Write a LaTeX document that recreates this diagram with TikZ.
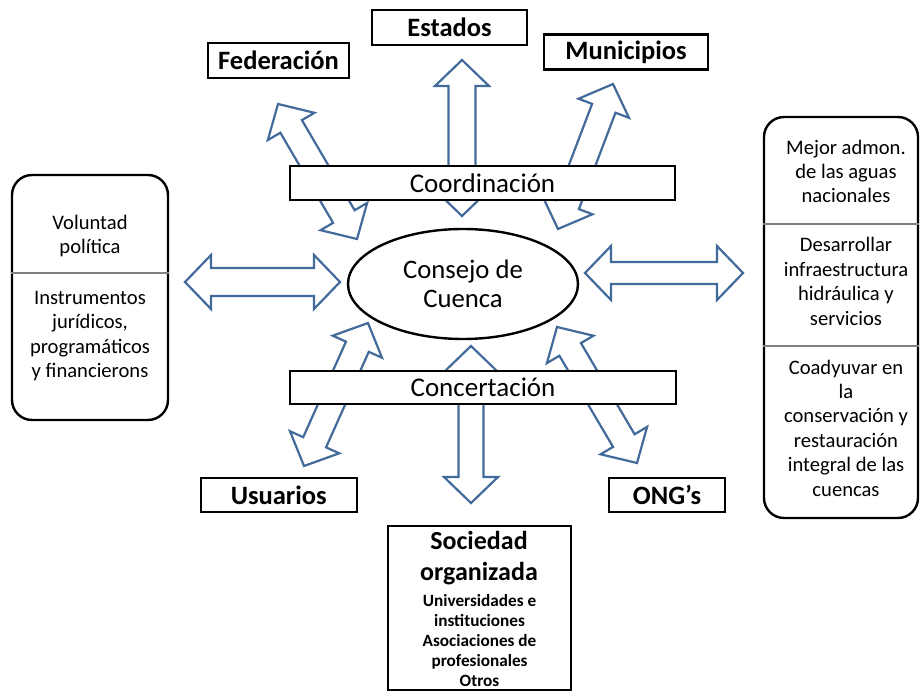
\documentclass[tikz,border=0pt]{standalone}
\usepackage{fontspec}
\setmainfont{Carlito}
\usetikzlibrary{calc,shapes.geometric}
\definecolor{arrowblue}{RGB}{66,106,155}
\definecolor{rulegray}{RGB}{128,128,128}

% Hollow block arrow with a head at both ends.
% #1 = half width of the shaft, #2 and #3 = tips
\newcommand{\twoway}[3][12.5pt]{%
  \draw[flowarrow] let \p1=($(#3)-(#2)$), \n1={atan2(\y1,\x1)} in
    (#2) -- ($(#2)+(\n1:26pt)+(\n1+90:27pt)$)
         -- ($(#2)+(\n1:26pt)+(\n1+90:#1)$)
         -- ($(#3)+(\n1+180:26pt)+(\n1+90:#1)$)
         -- ($(#3)+(\n1+180:26pt)+(\n1+90:27pt)$)
         -- (#3)
         -- ($(#3)+(\n1+180:26pt)+(\n1-90:27pt)$)
         -- ($(#3)+(\n1+180:26pt)+(\n1-90:#1)$)
         -- ($(#2)+(\n1:26pt)+(\n1-90:#1)$)
         -- ($(#2)+(\n1:26pt)+(\n1-90:27pt)$)
         -- cycle;}

\begin{document}
\begin{tikzpicture}[x=1pt,y=-1pt,
  box/.style={draw=black, line width=2.4pt, fill=white, inner sep=0pt},
  tag/.style={box, font=\fontsize{26.5}{30}\selectfont\bfseries},
  band/.style={box, font=\fontsize{27}{31}\selectfont},
  panel/.style={draw=black, line width=2.4pt, rounded corners=20pt, fill=white, inner sep=0pt},
  paneltext/.style={align=center, font=\fontsize{20.6}{24.4}\selectfont, inner sep=0pt},
  divider/.style={draw=rulegray, line width=1.1pt},
  flowarrow/.style={draw=arrowblue, line width=2.2pt, fill=white, line join=miter}]

\useasboundingbox (0,0) rectangle (920,692);

% arrow tips
\coordinate (fedA) at (278,104);  \coordinate (fedB) at (357,239);
\coordinate (estA) at (462,60);   \coordinate (estB) at (462,216);
\coordinate (munA) at (613,84);   \coordinate (munB) at (558,229);
\coordinate (lefA) at (185,282);  \coordinate (lefB) at (340,282);
\coordinate (rigA) at (585,273);  \coordinate (rigB) at (743,273);
\coordinate (usuA) at (368,323);  \coordinate (usuB) at (304,466);
\coordinate (socA) at (471,346);  \coordinate (socB) at (471,503);
\coordinate (ongA) at (557,327);  \coordinate (ongB) at (637,463);

\twoway{fedA}{fedB}
\twoway[13.5pt]{estA}{estB}
\twoway{munA}{munB}
\twoway[14pt]{lefA}{lefB}
\twoway[11pt]{rigA}{rigB}
\twoway{usuA}{usuB}
\twoway{socA}{socB}
\twoway{ongA}{ongB}

% labelled boxes
\node[tag, minimum width=141, minimum height=35] (fed) at (278.5,60.5) {Federación};
\node[tag, minimum width=155, minimum height=35] (est) at (449.5,27.5) {Estados};
\node[tag, minimum width=164, minimum height=35] (mun) at (626,52) {Municipios};
\node[tag, minimum width=156, minimum height=34] (usu) at (278.75,495) {Usuarios};
\node[tag, minimum width=116, minimum height=34] (ong) at (667,495) {ONG’s};

\node[band, minimum width=385, minimum height=34] (coord) at (482.5,183) {Coordinación};
\node[band, minimum width=386, minimum height=33] (conc) at (483,387.5) {Concertación};

% central body
\node[draw=black, line width=2.4pt, fill=white, ellipse, inner sep=0pt,
      minimum width=230, minimum height=110, align=center,
      font=\fontsize{26.7}{29}\selectfont] (consejo) at (463,284) {Consejo de\\Cuenca};

% organised society
\node[box, minimum width=183, minimum height=164] (soc) at (479.5,608) {};
\node[align=center, inner sep=0pt, font=\fontsize{26}{31}\selectfont\bfseries]
  (soctitle) at (479,558) {Sociedad\\organizada};
\node[align=center, inner sep=0pt, font=\fontsize{17.2}{20}\selectfont\bfseries]
  (soclist) at (479.5,641) {Universidades e\\instituciones\\Asociaciones de\\profesionales\\Otros};

% left panel
\node[panel, minimum width=156, minimum height=245] (lbox) at (90,297.5) {};
\coordinate (lcut) at (0,273);
\draw[divider] (lbox.west |- lcut) -- (lbox.east |- lcut);
\node[paneltext] (vol) at (90,236) {Voluntad\\política};
\node[paneltext] (ins) at (90,336) {Instrumentos\\jurídicos,\\programáticos\\y financierons};

% right panel
\node[panel, minimum width=154, minimum height=401] (rbox) at (841,317.5) {};
\coordinate (rcut1) at (0,224);
\coordinate (rcut2) at (0,346);
\draw[divider] (rbox.west |- rcut1) -- (rbox.east |- rcut1);
\draw[divider] (rbox.west |- rcut2) -- (rbox.east |- rcut2);
\node[paneltext] (mej) at (846,171.5) {Mejor admon.\\de las aguas\\nacionales};
\node[paneltext] (des) at (846,281.5) {Desarrollar\\infraestructura\\hidráulica y\\servicios};
\node[paneltext] (coa) at (846,428) {Coadyuvar en\\la\\conservación y\\restauración\\integral de las\\cuencas};

\end{tikzpicture}
\end{document}
